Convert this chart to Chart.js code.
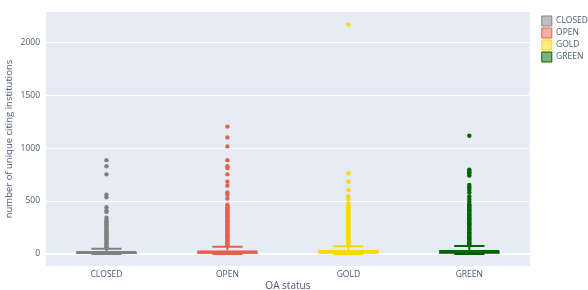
<!DOCTYPE html>
<html>
<head>
<meta charset="utf-8">
<script src="https://cdn.jsdelivr.net/npm/chart.js@4"></script>
<style>
  html, body { margin: 0; padding: 0; background: #fff; }
  #wrap { width: 588px; height: 290px; }
</style>
</head>
<body>
<div id="wrap"><canvas id="boxChart"></canvas></div>
<script>
const categories = ["CLOSED", "OPEN", "GOLD", "GREEN"];
const colors = ["#808080", "#e5604c", "#ffd700", "#006400"];
const fills = ["rgba(128,128,128,0.5)", "rgba(229,96,76,0.5)", "rgba(255,215,0,0.5)", "rgba(0,100,0,0.5)"];

// box statistics per category
const lowerFence = [0, 0, 0, 0];
const q1 = [2, 2, 2, 2];
const medians = [9, 11, 13, 13];
const q3 = [28, 35, 38, 38];
const upperFence = [48, 67, 73, 76];

// outliers
const closedOutliers = [886, 829, 752, 559, 536, 441, 410, 397, 343, 321, 305, 292, 280, 268, 256, 244, 232, 220, 208, 196, 184, 172, 160, 148, 136, 124, 112, 100, 88, 76, 64, 55];
const openOutliers = [1203, 1101, 1016, 886, 829, 812, 752, 683, 645, 581, 559, 524, 464, 452, 440, 428, 416, 404, 392, 380, 368, 356, 344, 332, 320, 308, 296, 284, 272, 260, 248, 236, 224, 212, 200, 188, 176, 164, 152, 140, 128, 116, 104, 92, 80, 72];
const goldOutliers = [2167, 762, 683, 603, 546, 520, 476, 464, 452, 440, 428, 416, 404, 392, 380, 368, 356, 344, 332, 320, 308, 296, 284, 272, 260, 248, 236, 224, 212, 200, 188, 176, 164, 152, 140, 128, 116, 104, 92, 80];
const greenOutliers = [1117, 797, 785, 772, 760, 740, 651, 630, 606, 580, 543, 520, 495, 470, 458, 446, 434, 422, 410, 398, 386, 374, 362, 350, 338, 326, 314, 302, 290, 278, 266, 254, 242, 230, 218, 206, 194, 182, 170, 158, 146, 134, 122, 110, 98, 86];
const outliers = [closedOutliers, openOutliers, goldOutliers, greenOutliers];

const yTicks = [0, 500, 1000, 1500, 2000];

const textColor = '#4a5878';

const boxDatasets = categories.map((c, i) => ({
    type: 'bar',
    label: c,
    data: categories.map((_, j) => j === i ? [q1[i], q3[i]] : null),
    backgroundColor: fills[i],
    borderColor: colors[i],
    borderWidth: 2,
    borderSkipped: false,
    grouped: false,
    barPercentage: 0.5,
    categoryPercentage: 1
}));

const pointDatasets = categories.map((c, i) => ({
    type: 'line',
    label: c + ' outliers',
    data: outliers[i].map(v => ({ x: c, y: v })),
    showLine: false,
    pointRadius: 2.2,
    pointBorderWidth: 0,
    pointBackgroundColor: colors[i],
    pointHoverRadius: 2.2
}));

const plotBackground = {
    id: 'plotBackground',
    beforeDraw(chart) {
        const a = chart.chartArea;
        const ctx = chart.ctx;
        ctx.save();
        ctx.fillStyle = '#e5ecf6';
        ctx.fillRect(a.left, a.top, a.right - a.left, a.bottom - a.top);
        ctx.restore();
    }
};

// shift the legend a little, like plotly does
const legendShift = {
    id: 'legendShift',
    afterLayout(chart) {
        chart.legend.left += 10;
        chart.legend.right += 10;
        chart.legend.top += 2;
    }
};

const whiskers = {
    id: 'whiskers',
    beforeDatasetsDraw(chart) {
        const x = chart.scales.x, y = chart.scales.y, ctx = chart.ctx;
        ctx.save();
        ctx.lineWidth = 2;
        categories.forEach((c, i) => {
            const cx = x.getPixelForValue(i);
            const bar = chart.getDatasetMeta(i).data[i];
            const half = bar.width / 4;
            ctx.strokeStyle = colors[i];
            ctx.beginPath();
            ctx.moveTo(cx, y.getPixelForValue(q3[i]));
            ctx.lineTo(cx, y.getPixelForValue(upperFence[i]));
            ctx.moveTo(cx - half, y.getPixelForValue(upperFence[i]));
            ctx.lineTo(cx + half, y.getPixelForValue(upperFence[i]));
            ctx.moveTo(cx, y.getPixelForValue(q1[i]));
            ctx.lineTo(cx, y.getPixelForValue(lowerFence[i]));
            ctx.moveTo(cx - half, y.getPixelForValue(lowerFence[i]));
            ctx.lineTo(cx + half, y.getPixelForValue(lowerFence[i]));
            ctx.stroke();
        });
        ctx.restore();
    },
    afterDatasetsDraw(chart) {
        const x = chart.scales.x, y = chart.scales.y, ctx = chart.ctx;
        ctx.save();
        ctx.lineWidth = 2;
        categories.forEach((c, i) => {
            const cx = x.getPixelForValue(i);
            const bar = chart.getDatasetMeta(i).data[i];
            const half = bar.width / 2;
            ctx.strokeStyle = colors[i];
            ctx.beginPath();
            ctx.moveTo(cx - half, y.getPixelForValue(medians[i]));
            ctx.lineTo(cx + half, y.getPixelForValue(medians[i]));
            ctx.stroke();
        });
        ctx.restore();
    }
};

const ctx = document.getElementById('boxChart').getContext('2d');
new Chart(ctx, {
    type: 'bar',
    data: {
        labels: categories,
        datasets: [...boxDatasets, ...pointDatasets]
    },
    options: {
        responsive: true,
        maintainAspectRatio: false,
        animation: false,
        layout: { padding: { top: 12, right: 0, left: 0, bottom: 0 } },
        plugins: {
            tooltip: { enabled: false },
            legend: {
                position: 'right',
                align: 'start',
                labels: {
                    color: textColor,
                    font: { family: 'Open Sans', size: 8.5 },
                    boxWidth: 10,
                    boxHeight: 10,
                    padding: 2,
                    generateLabels: chart => categories.map((c, i) => ({
                        text: c,
                        fillStyle: fills[i],
                        strokeStyle: colors[i],
                        lineWidth: 1,
                        datasetIndex: i,
                        fontColor: textColor
                    }))
                }
            }
        },
        scales: {
            x: {
                grid: { display: false, drawTicks: false },
                border: { display: false },
                ticks: { color: textColor, font: { family: 'Open Sans', size: 8.5 }, padding: 3 },
                title: {
                    display: true,
                    text: 'OA status',
                    color: textColor,
                    font: { family: 'Open Sans', size: 10 },
                    padding: { top: 0, bottom: -2 }
                },
                afterFit(scale) { scale.height = 24; }
            },
            y: {
                min: -114,
                max: 2286,
                border: { display: false },
                grid: {
                    color: '#ffffff',
                    lineWidth: c => c.tick && c.tick.value === 0 ? 2 : 1,
                    drawTicks: false
                },
                afterBuildTicks(scale) { scale.ticks = yTicks.map(v => ({ value: v })); },
                ticks: {
                    color: textColor,
                    font: { family: 'Open Sans', size: 8.5 },
                    padding: 6,
                    callback: v => String(v)
                },
                title: {
                    display: true,
                    text: 'number of unique citing institutions',
                    color: textColor,
                    font: { family: 'Open Sans', size: 9.5 },
                    padding: { top: 4, bottom: 0 }
                },
                afterFit(scale) { scale.width = 46; }
            }
        }
    },
    plugins: [plotBackground, legendShift, whiskers]
});
</script>
</body>
</html>
